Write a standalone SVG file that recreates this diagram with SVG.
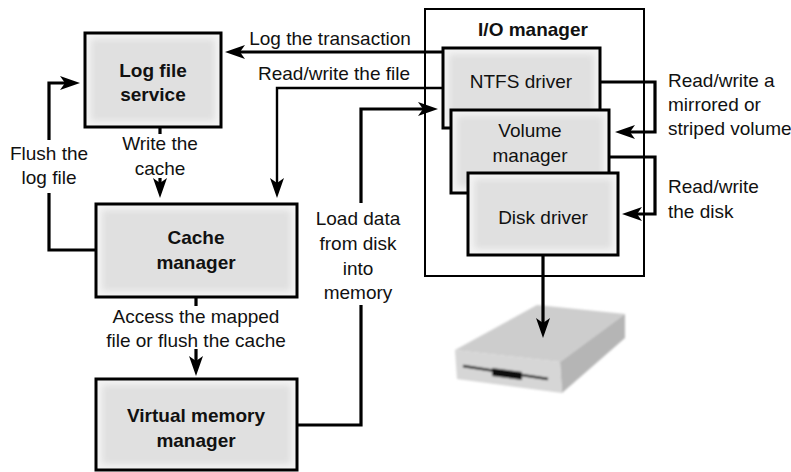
<svg xmlns="http://www.w3.org/2000/svg" width="791" height="472" viewBox="0 0 791 472">
  <defs>
    <style>
      text { font-family: "Liberation Sans", Arial, sans-serif; font-size: 19px; fill: #111; }
      .b { font-weight: bold; }
      .c { text-anchor: middle; }
      .edge { fill: #f4f4f4; stroke: none; }
      .core { fill: #e0e0e0; stroke: none; filter: url(#soft); }
      .frame { fill: none; stroke: #000; stroke-width: 3; }
      .wire { fill: none; stroke: #000; stroke-width: 3.2; }
      .thin { stroke-width: 2.4; }
    </style>
    <filter id="soft" x="-10%" y="-10%" width="120%" height="120%">
      <feGaussianBlur stdDeviation="3"/>
    </filter>
    <filter id="haze" x="-5%" y="-5%" width="110%" height="110%">
      <feGaussianBlur stdDeviation="0.8"/>
    </filter>
    <marker id="arrow" viewBox="0 0 20 16" refX="12" refY="8" markerWidth="20" markerHeight="16" markerUnits="userSpaceOnUse" orient="auto">
      <path d="M0,1 L20,8 L0,15 L5,8 Z" fill="#000"/>
    </marker>
  </defs>

  <rect width="791" height="472" fill="#fff"/>

  <!-- I/O manager container with its three stacked drivers -->
  <g id="io-manager">
    <rect x="425" y="9" width="219" height="267" fill="#fff" stroke="#000" stroke-width="2"/>
    <text class="b c" x="533" y="36">I/O manager</text>
  </g>

  <g id="ntfs-driver">
    <rect class="edge" x="443" y="48" width="157" height="80"/>
    <rect class="core" x="449" y="54" width="145" height="68"/>
    <rect class="frame" x="443" y="48" width="157" height="80" stroke-width="2.6"/>
    <text class="c" x="521" y="88">NTFS driver</text>
  </g>

  <g id="volume-manager">
    <rect class="edge" x="451" y="110" width="158" height="83"/>
    <rect class="core" x="457" y="116" width="146" height="71"/>
    <rect class="frame" x="451" y="110" width="158" height="83"/>
    <text class="c" x="530" y="137">Volume</text>
    <text class="c" x="530" y="162">manager</text>
  </g>

  <g id="disk-driver">
    <rect class="edge" x="468" y="173" width="150" height="82"/>
    <rect class="core" x="474" y="179" width="138" height="70"/>
    <rect class="frame" x="468" y="173" width="150" height="82"/>
    <text class="c" x="543" y="224">Disk driver</text>
  </g>

  <g id="log-file-service">
    <rect class="edge" x="85" y="33" width="136" height="94"/>
    <rect class="core" x="91" y="39" width="124" height="82"/>
    <rect class="frame" x="85" y="33" width="136" height="94"/>
    <text class="b c" x="153" y="77">Log file</text>
    <text class="b c" x="153" y="101">service</text>
  </g>

  <g id="cache-manager">
    <rect class="edge" x="96" y="204" width="201" height="93"/>
    <rect class="core" x="102" y="210" width="189" height="81"/>
    <rect class="frame" x="96" y="204" width="201" height="93"/>
    <text class="b c" x="196" y="244">Cache</text>
    <text class="b c" x="196" y="269">manager</text>
  </g>

  <g id="virtual-memory-manager">
    <rect class="edge" x="96" y="379" width="201" height="91"/>
    <rect class="core" x="102" y="385" width="189" height="79"/>
    <rect class="frame" x="96" y="379" width="201" height="91"/>
    <text class="b c" x="196" y="422">Virtual memory</text>
    <text class="b c" x="196" y="447">manager</text>
  </g>

  <!-- Disk drive -->
  <g id="disk" filter="url(#haze)">
    <polygon points="455,350 537,305 625,314 560,362" fill="#cdcdcd"/>
    <polygon points="560,362 625,314 625,338 562,393" fill="#b5b5b5"/>
    <polygon points="455,350 560,362 562,393 457,379" fill="#d6d6d6"/>
    <polyline points="463,366 548,379" fill="none" stroke="#111" stroke-width="2.5"/>
    <polygon points="492,368 522,372 522,380 492,376" fill="#111"/>
  </g>

  <!-- Connectors -->
  <g id="connectors">
    <path class="wire" d="M443,52 H233" marker-end="url(#arrow)"/>
    <path class="wire thin" d="M443,88 H277 V190" marker-end="url(#arrow)"/>
    <path class="wire" d="M297,425 H361 V305"/>
    <path class="wire" d="M361,203 V109 H430" marker-end="url(#arrow)"/>
    <path class="wire" d="M160,128 V134"/>
    <path class="wire" d="M160,178 V190" marker-end="url(#arrow)"/>
    <path class="wire" d="M49,140 V83 H72" marker-end="url(#arrow)"/>
    <path class="wire" d="M49,193 V250 H96"/>
    <path class="wire" d="M196,297 V306"/>
    <path class="wire" d="M196,349 V368" marker-end="url(#arrow)"/>
    <path class="wire" d="M600,82 H655 V132 H623" marker-end="url(#arrow)"/>
    <path class="wire" d="M609,157 H655 V214 H630" marker-end="url(#arrow)"/>
    <path class="wire" d="M543,255 V330" marker-end="url(#arrow)"/>
  </g>

  <!-- Connector labels -->
  <g id="labels">
    <text class="c" x="330" y="45">Log the transaction</text>
    <text class="c" x="334" y="80">Read/write the file</text>
    <text class="c" x="160" y="150">Write the</text>
    <text class="c" x="160" y="175">cache</text>
    <text class="c" x="49" y="160">Flush the</text>
    <text class="c" x="49" y="184">log file</text>
    <text class="c" x="196" y="323">Access the mapped</text>
    <text class="c" x="196" y="347">file or flush the cache</text>
    <text class="c" x="358" y="225">Load data</text>
    <text class="c" x="358" y="250">from disk</text>
    <text class="c" x="358" y="275">into</text>
    <text class="c" x="358" y="299">memory</text>
    <text x="668" y="87">Read/write a</text>
    <text x="668" y="111">mirrored or</text>
    <text x="668" y="135">striped volume</text>
    <text x="668" y="193">Read/write</text>
    <text x="668" y="218">the disk</text>
  </g>
</svg>
